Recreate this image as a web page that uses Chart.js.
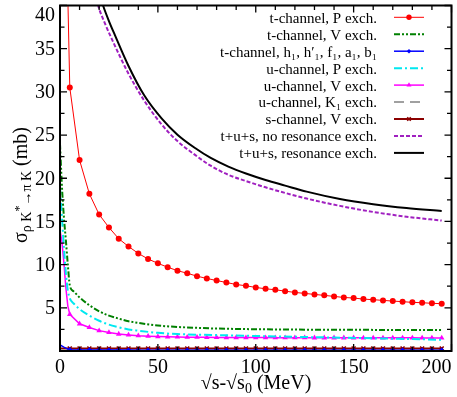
<!DOCTYPE html>
<html>
<head>
<meta charset="utf-8">
<script src="https://cdn.jsdelivr.net/npm/chart.js@4.4.1/dist/chart.umd.min.js"></script>
<style>
html, body { margin: 0; padding: 0; background: #fff; }
#wrap { width: 457px; height: 397px; }
</style>
</head>
<body>
<div id="wrap"><canvas id="chart" width="457" height="397"></canvas></div>
<script>
// ---------------- DATA ----------------
const xTicks = [0, 50, 100, 150, 200];
const yTicks = [5, 10, 15, 20, 25, 30, 35, 40];

// marker positions (every 5 MeV)
const markX = [5,10,15,20,25,30,35,40,45,50,55,60,65,70,75,80,85,90,95,100,
               105,110,115,120,125,130,135,140,145,150,155,160,165,170,175,180,185,190,195];

// t-channel, P exch.
const tPLeadX = [3, 4];
const tPLeadY = [60, 41];
const tChanP = [30.5,22.1,18.2,15.8,14.3,13.0,12.1,11.3,10.65,10.15,9.7,9.3,9.0,8.66,8.4,8.16,7.93,7.7,7.55,7.36,
                7.2,7.09,6.93,6.78,6.67,6.55,6.44,6.32,6.2,6.13,6.01,5.94,5.86,5.78,5.71,5.63,5.59,5.52,5.48];

// t-channel, V exch.
const tVX = [0,1,2,3,4,5,7,10,15,20,25,30,35,40,50,60,70,80,100,120,150,195];
const tVY = [24,19,15.5,12.8,10,7.6,6.9,6.2,5.3,4.6,4.1,3.75,3.45,3.25,2.95,2.78,2.68,2.6,2.52,2.48,2.45,2.44];

// t-channel, axial exchanges
const tALeadX = [0, 2, 4];
const tALeadY = [0.7, 0.45, 0.22];
const tChanA = [0.15,0.13,0.12,0.12,0.11,0.11,0.11,0.1,0.1,0.1,0.1,0.1,0.1,0.1,0.1,0.1,0.1,0.1,0.1,0.1,
                0.1,0.1,0.1,0.1,0.1,0.1,0.1,0.1,0.1,0.1,0.1,0.1,0.1,0.1,0.1,0.1,0.1,0.1,0.1];

// u-channel, P exch.
const uPX = [0,1,2,3,4,5,7,10,15,20,25,30,35,40,50,60,80,100,120,140,160,180,195];
const uPY = [19,15.5,12,9,7,6.1,5.5,4.85,4.1,3.5,3.05,2.75,2.5,2.35,2.1,1.96,1.84,1.74,1.64,1.56,1.47,1.38,1.3];

// u-channel, V exch.
const uVLeadX = [0, 1, 2, 3, 4];
const uVLeadY = [14, 12.6, 10.2, 7.3, 5.2];
const uChanV = [4.25,3.15,2.72,2.36,2.15,1.96,1.86,1.77,1.71,1.67,1.64,1.62,1.6,1.59,1.58,1.57,1.56,1.56,1.55,1.55,
                1.55,1.54,1.54,1.54,1.54,1.53,1.53,1.53,1.53,1.53,1.52,1.52,1.52,1.52,1.52,1.52,1.51,1.51,1.51];

// u-channel, K1 exch.
const uKX = [0, 50, 100, 150, 195];
const uKY = [0.06, 0.05, 0.05, 0.05, 0.05];

// s-channel, V exch.
const sVLeadX = [0];
const sVLeadY = [0.3];
const sChanV = [0.3,0.3,0.3,0.3,0.3,0.3,0.3,0.3,0.3,0.3,0.3,0.3,0.3,0.3,0.3,0.3,0.3,0.3,0.3,0.3,
                0.3,0.3,0.3,0.3,0.3,0.3,0.3,0.3,0.3,0.3,0.3,0.3,0.3,0.3,0.3,0.3,0.3,0.3,0.3];

// t+u+s, no resonance exch.
const noResX = [16,19.5,23,26.5,35,43,52,60,69,77,86,96,105,115,126,143,160,177,195];
const noResY = [43.5,40,37.9,36.1,32.1,29.0,26.2,24.3,22.7,21.45,20.4,19.6,18.95,18.3,17.65,16.8,16.1,15.55,15.1];

// t+u+s, resonance exch.
const resX = [18,22,25,28,35,43,52,60,69,77,86,95,105,115,126,143,160,177,195];
const resY = [43,40,38.2,36.6,33.0,29.6,26.9,25.05,23.5,22.35,21.35,20.55,19.8,19.15,18.45,17.6,17.0,16.55,16.2];

const labels = [
    "t-channel, P exch.",
    "t-channel, V exch.",
    "t-channel, h\u2081, h\u2032\u2081, f\u2081, a\u2081, b\u2081",
    "u-channel, P exch.",
    "u-channel, V exch.",
    "u-channel, K\u2081 exch.",
    "s-channel, V exch.",
    "t+u+s, no resonance exch.",
    "t+u+s, resonance exch."
];

// ---------------- HELPERS ----------------
function pts(xs, ys) {
    return xs.map((x, i) => ({ x: x, y: ys[i] }));
}
// lead points have no marker, the rest get one
function marked(leadX, leadY, xs, ys, r) {
    return {
        data: pts(leadX, leadY).concat(pts(xs, ys)),
        pointRadius: leadX.map(() => 0).concat(xs.map(() => r))
    };
}

const serif = '"Liberation Serif", "DejaVu Serif", serif';

const redS = marked(tPLeadX, tPLeadY, markX, tChanP, 3);
const blueS = marked(tALeadX, tALeadY, markX, tChanA, 2.6);
const magS = marked(uVLeadX, uVLeadY, markX, uChanV, 3.2);
const brownS = marked(sVLeadX, sVLeadY, markX, sChanV, 2.8);

// marker series are straight polylines, the others are smooth curves
const datasets = [
    { data: redS.data, pointRadius: redS.pointRadius, borderColor: "#ff0000",
      borderWidth: 1, pointStyle: "circle", pointBorderWidth: 0, tension: 0 },
    { data: pts(tVX, tVY), pointRadius: 0, borderColor: "#008000", borderWidth: 2,
      borderDash: [6, 2, 2, 2, 2, 2], cubicInterpolationMode: "monotone" },
    { data: blueS.data, pointRadius: blueS.pointRadius, borderColor: "#0000ff",
      borderWidth: 1.5, pointStyle: "rectRot", pointBorderWidth: 0, tension: 0 },
    { data: pts(uPX, uPY), pointRadius: 0, borderColor: "#00e8f0", borderWidth: 2,
      borderDash: [8, 3, 2, 3], cubicInterpolationMode: "monotone" },
    { data: magS.data, pointRadius: magS.pointRadius, borderColor: "#ff00ff",
      borderWidth: 1.5, pointStyle: "triangle", pointBorderWidth: 0, tension: 0 },
    { data: pts(uKX, uKY), pointRadius: 0, borderColor: "#a0a0a0", borderWidth: 2,
      borderDash: [10, 6], tension: 0 },
    { data: brownS.data, pointRadius: brownS.pointRadius, borderColor: "#8b0000",
      borderWidth: 2, pointStyle: "crossRot", pointBorderWidth: 1.5, tension: 0 },
    { data: pts(noResX, noResY), pointRadius: 0, borderColor: "#a020c0", borderWidth: 2,
      borderDash: [4, 2], cubicInterpolationMode: "monotone" },
    { data: pts(resX, resY), pointRadius: 0, borderColor: "#000000", borderWidth: 2,
      cubicInterpolationMode: "monotone" }
];
datasets.forEach((d, i) => {
    d.label = labels[i];
    d.fill = false;
    d.pointBorderColor = d.borderColor;
    d.pointBackgroundColor = d.borderColor;
    d.backgroundColor = d.borderColor;
});

// ---------------- FRAME / TEXT PLUGIN ----------------
const framePlugin = {
    id: "frame",
    afterDraw(chart) {
        const ctx = chart.ctx;
        const a = chart.chartArea;
        const xs = chart.scales.x, ys = chart.scales.y;
        ctx.save();

        // box
        ctx.strokeStyle = "#000";
        ctx.lineWidth = 2;
        ctx.setLineDash([]);
        ctx.strokeRect(a.left, a.top, a.right - a.left, a.bottom - a.top);

        // inward ticks on all four sides
        ctx.lineWidth = 1.3;
        ctx.beginPath();
        for (let v = 0; v <= 200; v += 10) {
            const px = xs.getPixelForValue(v);
            const len = v % 50 === 0 ? 7 : 4.5;
            ctx.moveTo(px, a.bottom); ctx.lineTo(px, a.bottom - len);
            ctx.moveTo(px, a.top); ctx.lineTo(px, a.top + len);
        }
        for (let v = 0; v <= 40; v += 2.5) {
            const py = ys.getPixelForValue(v);
            const len = v % 5 === 0 ? 7 : 4.5;
            ctx.moveTo(a.left, py); ctx.lineTo(a.left + len, py);
            ctx.moveTo(a.right, py); ctx.lineTo(a.right - len, py);
        }
        ctx.stroke();

        // tick labels
        ctx.fillStyle = "#000";
        ctx.font = "20px " + serif;
        ctx.textBaseline = "alphabetic";
        ctx.textAlign = "center";
        xTicks.forEach(v => {
            const s = String(v);
            const w = ctx.measureText(s).width;
            const px = Math.min(xs.getPixelForValue(v), a.right - w / 2);
            ctx.fillText(s, px, 372.5);
        });
        ctx.textAlign = "right";
        ctx.textBaseline = "middle";
        yTicks.forEach(v => {
            const py = Math.max(ys.getPixelForValue(v), a.top + 9);
            ctx.fillText(String(v), 55, py + 1);
        });

        // x title
        ctx.textBaseline = "alphabetic";
        ctx.textAlign = "left";
        const big = "20px " + serif, small = "14px " + serif;
        ctx.font = big;
        const p1 = "\u221As-\u221As", p3 = " (MeV)";
        const w1 = ctx.measureText(p1).width, w3 = ctx.measureText(p3).width;
        ctx.font = small;
        const w2 = ctx.measureText("0").width;
        let tx = 256 - (w1 + w2 + w3) / 2;
        ctx.font = big; ctx.fillText(p1, tx, 389); tx += w1;
        ctx.font = small; ctx.fillText("0", tx, 393); tx += w2;
        ctx.font = big; ctx.fillText(p3, tx, 389);

        // y title (rotated)
        ctx.save();
        ctx.translate(27, 243);
        ctx.rotate(-Math.PI / 2);
        let ty = 0;
        const part = (txt, font, dy) => {
            ctx.font = font;
            ctx.fillText(txt, ty, dy);
            ty += ctx.measureText(txt).width;
        };
        part("\u03C3", big, 0);
        part("\u03C1 K", small, 4);
        part("*", "12px " + serif, -4);
        part("\u2192\u03C0 K", small, 4);
        part(" (mb)", big, 0);
        ctx.restore();

        // legend
        const base0 = 22.7, step = 16.95;
        chart.data.datasets.forEach((d, i) => {
            const by = base0 + i * step;
            ctx.font = "15px " + serif;
            ctx.textAlign = "right";
            ctx.textBaseline = "alphabetic";
            ctx.fillStyle = "#000";
            ctx.fillText(d.label, 377, by);
            const ly = by - 5.4;
            ctx.strokeStyle = d.borderColor;
            ctx.lineWidth = d.borderWidth;
            ctx.setLineDash(d.borderDash || []);
            ctx.beginPath();
            ctx.moveTo(394, ly); ctx.lineTo(424, ly);
            ctx.stroke();
            ctx.setLineDash([]);
            const r = Array.isArray(d.pointRadius) ? Math.max(...d.pointRadius) : d.pointRadius;
            if (r > 0 && Chart.helpers && Chart.helpers.drawPoint) {
                ctx.fillStyle = d.borderColor;
                ctx.lineWidth = d.pointBorderWidth || 1;
                Chart.helpers.drawPoint(ctx, { pointStyle: d.pointStyle, rotation: 0, radius: r - 0.3, borderWidth: d.pointBorderWidth }, 409, ly);
            }
        });
        ctx.restore();
    }
};

// ---------------- CHART ----------------
let chart;
function initChart() {
    const ctx = document.getElementById("chart").getContext("2d");
    chart = new Chart(ctx, {
        type: "line",
        data: { datasets: datasets },
        options: {
            responsive: false,
            animation: false,
            devicePixelRatio: 1,
            layout: { padding: { left: 0, right: 5, top: 4, bottom: 0 } },
            plugins: { legend: { display: false }, tooltip: { enabled: false } },
            scales: {
                x: {
                    type: "linear", min: 0, max: 200,
                    ticks: { display: false }, grid: { display: false }, border: { display: false },
                    afterFit: s => { s.height = 46; s.paddingLeft = 0; s.paddingRight = 0; }
                },
                y: {
                    type: "linear", min: 0, max: 40,
                    ticks: { display: false }, grid: { display: false }, border: { display: false },
                    afterFit: s => { s.width = 60; s.paddingTop = 0; s.paddingBottom = 0; }
                }
            }
        },
        plugins: [framePlugin]
    });
}

window.onload = initChart;
</script>
</body>
</html>
